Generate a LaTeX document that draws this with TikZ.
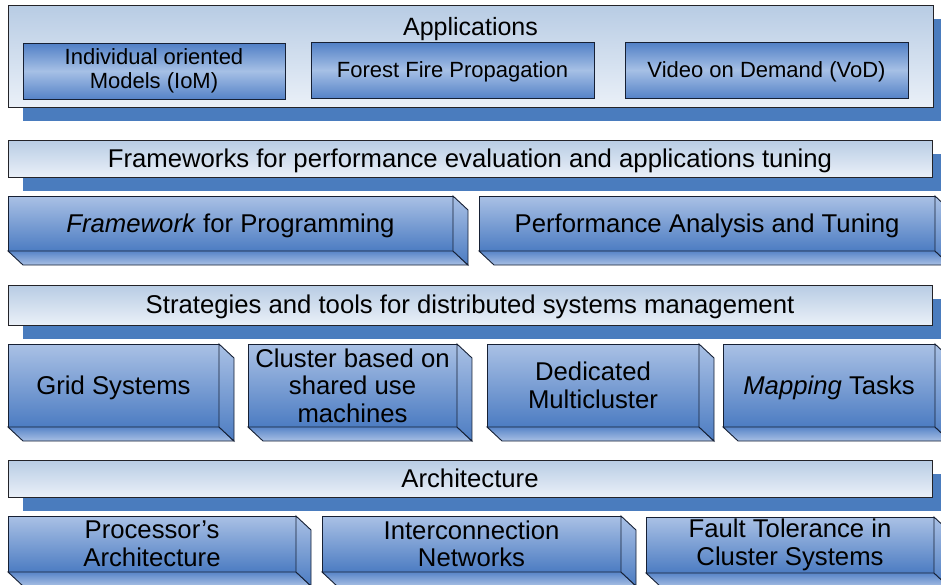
\documentclass[tikz,border=0pt]{standalone}
\usepackage{fontspec}
\setmainfont{Liberation Sans}
\usetikzlibrary{shadows}
\definecolor{bandtop}{RGB}{184,204,228}
\definecolor{bandbot}{RGB}{234,240,248}
\definecolor{shadowblue}{RGB}{74,124,190}
\definecolor{facetop}{RGB}{170,193,229}
\definecolor{facebot}{RGB}{76,124,194}
\definecolor{basetop}{RGB}{88,133,200}
\definecolor{basebot}{RGB}{168,191,228}
\definecolor{apptop}{RGB}{80,127,198}
\definecolor{appmid}{RGB}{166,192,229}
\definecolor{appbot}{RGB}{86,131,200}
\definecolor{edgegray}{RGB}{35,35,40}
\definecolor{edgenavy}{RGB}{22,32,52}
\newcommand\boxdepth[1]{%
  \shade[baseface] (#1.south west) -- ++(15,14) -- ([shift={(15,14)}]#1.south east) -- (#1.south east) -- cycle;
  \shade[sideface] (#1.north east) -- ++(15,14) -- ([shift={(15,14)}]#1.south east) -- (#1.south east) -- cycle;}
\begin{document}
\begin{tikzpicture}[x=1pt,y=-1pt,
  big/.style={font=\fontsize{25.7}{27.5}\selectfont},
  small/.style={font=\fontsize{22}{23.5}\selectfont},
  onebig/.style={text height=21.8pt, text depth=3.9pt},
  onesmall/.style={text height=18.7pt, text depth=3.3pt},
  band/.style={draw=edgegray, line width=0.9pt, top color=bandtop, bottom color=bandbot,
    anchor=north west, inner sep=0pt, outer sep=0pt, minimum width=924pt, big,
    drop shadow={shadow xshift=15pt, shadow yshift=-14pt, fill=shadowblue, opacity=1}},
  appbox/.style={draw=edgenavy, line width=0.9pt, top color=apptop, bottom color=appbot, middle color=appmid,
    anchor=north west, inner sep=0pt, outer sep=0pt, minimum height=56pt, small, align=center},
  front/.style={draw=edgenavy, line width=0.9pt, top color=facetop, bottom color=facebot,
    anchor=north west, inner sep=0pt, outer sep=0pt, big, align=center},
  sideface/.style={draw=edgenavy, line width=0.9pt, top color=facetop, bottom color=facebot},
  baseface/.style={draw=edgenavy, line width=0.9pt, top color=basetop, bottom color=basebot},
]
\useasboundingbox (0,0) rectangle (941,584);
\fill[white] (0,0) rectangle (941,584);
\clip (0,0) rectangle (941,584);

% Applications panel
\node[band, minimum width=925pt, minimum height=102pt] (apps) at (8,5) {};
\node[font=\fontsize{25}{27}\selectfont, onebig] (appstitle) at (470.5,27) {Applications};
\node[appbox, minimum width=262pt] (iom) at (23,43) {Individual oriented\\Models (IoM)};
\node[appbox, minimum width=283pt, onesmall] (fire) at (311,42) {Forest Fire Propagation};
\node[appbox, minimum width=283pt, onesmall] (vod) at (625,42) {Video on Demand (VoD)};

% Frameworks
\node[band, minimum height=37pt, onebig] (fw) at (8,140) {Frameworks for performance evaluation and applications tuning};
\node[front, minimum width=445pt, minimum height=55pt, onebig] (prog) at (8,196) {\textit{Framework} for Programming};
\boxdepth{prog}
\node[front, minimum width=456pt, minimum height=55pt, onebig] (perf) at (479,196) {Performance Analysis and Tuning};
\boxdepth{perf}

% Strategies
\node[band, minimum height=40pt, onebig] (strat) at (8,285) {Strategies and tools for distributed systems management};
\node[front, minimum width=211pt, minimum height=83pt, onebig] (grid) at (8,344) {Grid Systems};
\boxdepth{grid}
\node[front, minimum width=209pt, minimum height=83pt] (clus) at (248,344) {Cluster based on\\shared use\\machines};
\boxdepth{clus}
\node[front, minimum width=212pt, minimum height=83pt] (multi) at (487,344) {Dedicated\\Multicluster};
\boxdepth{multi}
\node[front, minimum width=212pt, minimum height=83pt, onebig] (map) at (723,344) {\textit{Mapping} Tasks};
\boxdepth{map}

% Architecture
\node[band, minimum height=37pt, onebig] (arch) at (8,460) {Architecture};
\node[front, minimum width=288pt, minimum height=56pt] (proc) at (8,516) {Processor’s\\Architecture};
\boxdepth{proc}
\node[front, minimum width=299pt, minimum height=56pt] (net) at (322,516) {Interconnection\\Networks};
\boxdepth{net}
\node[front, minimum width=288pt, minimum height=56pt] (fault) at (646,517) {Fault Tolerance in\\Cluster Systems};
\boxdepth{fault}
\end{tikzpicture}
\end{document}
